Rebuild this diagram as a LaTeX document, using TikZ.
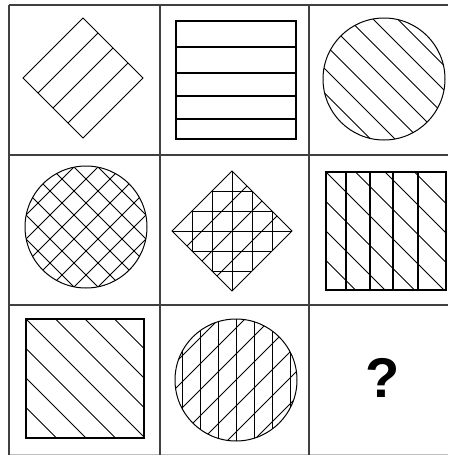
\documentclass[tikz,border=0pt]{standalone}
\usepackage{fontspec}
\newfontfamily\qfont{Liberation Sans}
\begin{document}
\begin{tikzpicture}[
    x=1pt, y=-1pt,
    gridline/.style={draw=black!75, line width=1.4pt},
    outline/.style={draw=black, line width=1pt},
    hatch/.style={draw=black, line width=0.8pt}
]
\useasboundingbox (0,0) rectangle (448,455);

% Grid
\draw[gridline] (9,5) -- (448,5);
\draw[gridline] (9,155) -- (448,155);
\draw[gridline] (9,305) -- (448,305);
\draw[draw=black!25, line width=1pt] (9,454) -- (448,454);
\draw[gridline] (9,5) -- (9,455);
\draw[gridline] (160,5) -- (160,455);
\draw[gridline] (309,5) -- (309,455);

% Row 1
\begin{scope}[shift={(83,78)}]
  \foreach \t in {15,30,45}
    \draw[hatch] (\t,-60+\t) -- (-60+\t,\t);
  \draw[outline] (0,-60) -- (60,0) -- (0,60) -- (-60,0) -- cycle;
\end{scope}

\foreach \y in {47,73,96,119}
  \draw[outline, line width=1.3pt] (176,\y) -- (296,\y);
\draw[outline, line width=1.3pt] (176,21) rectangle (296,139);

\begin{scope}[shift={(384,79)}]
  \begin{scope}
    \clip (0,0) circle[radius=61pt];
    \foreach \d in {-73.5,-49,-24.5,0,24.5,49,73.5}
      \draw[hatch] (\d-80,-80) -- (\d+80,80);
  \end{scope}
  \draw[outline] (0,0) circle[radius=61pt];
\end{scope}

% Row 2
\begin{scope}[shift={(86,227)}]
  \begin{scope}
    \clip (0,0) circle[radius=61pt];
    \foreach \d in {-72,-48,-24,0,24,48,72} {
      \draw[hatch] (\d-80,-80) -- (\d+80,80);
      \draw[hatch] (\d-80,80) -- (\d+80,-80);
    }
  \end{scope}
  \draw[outline] (0,0) circle[radius=61pt];
\end{scope}

\begin{scope}[shift={(232,231)}]
  \begin{scope}
    \clip (0,-60) -- (60,0) -- (0,60) -- (-60,0) -- cycle;
    \foreach \d in {-40,-20,0,20,40} {
      \draw[outline] (\d,-60) -- (\d,60);
      \draw[outline] (-60,\d) -- (60,\d);
    }
  \end{scope}
  \foreach \t in {15,30,45}
    \draw[hatch] (\t,-60+\t) -- (-60+\t,\t);
  \draw[outline] (0,-60) -- (60,0) -- (0,60) -- (-60,0) -- cycle;
\end{scope}

\begin{scope}[shift={(326,172)}]
  \begin{scope}
    \clip (0,0) rectangle (120,118);
    \foreach \d in {-88.5,-59,-29.5,0,29.5,59,88.5}
      \draw[hatch] (\d,0) -- (\d+120,120);
  \end{scope}
  \foreach \x in {20,44,67,92}
    \draw[outline, line width=1.3pt] (\x,0) -- (\x,118);
  \draw[outline, line width=1.3pt] (0,0) rectangle (120,118);
\end{scope}

% Row 3
\begin{scope}[shift={(26,319)}]
  \begin{scope}
    \clip (0,0) rectangle (118,119);
    \foreach \d in {-88.5,-59,-29.5,0,29.5,59,88.5}
      \draw[hatch] (\d,0) -- (\d+120,120);
  \end{scope}
  \draw[outline, line width=1.3pt] (0,0) rectangle (118,119);
\end{scope}

\begin{scope}[shift={(236,380)}]
  \begin{scope}
    \clip (0,0) circle[radius=61pt];
    \foreach \d in {-54,-36,-18,0,18,36,54}
      \draw[outline] (\d,-70) -- (\d,70);
    \foreach \d in {-78,-52,-26,0,26,52,78}
      \draw[hatch] (\d-80,80) -- (\d+80,-80);
  \end{scope}
  \draw[outline] (0,0) circle[radius=61pt];
\end{scope}

\node[font=\qfont\bfseries\fontsize{56}{56}\selectfont, inner sep=0pt] (question) at (383,378) {?};

\end{tikzpicture}
\end{document}
